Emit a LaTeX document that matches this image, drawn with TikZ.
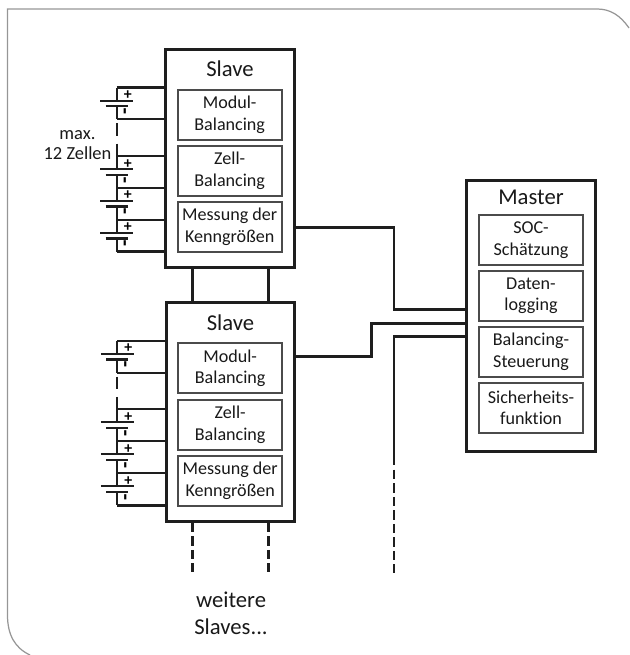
\documentclass[tikz,border=0pt]{standalone}
\usepackage{fontspec}
\setmainfont[Ligatures=CommonOff]{Carlito}
\usetikzlibrary{calc}

\definecolor{linedark}{RGB}{30,30,30}
\definecolor{framegray}{RGB}{150,150,150}

\begin{document}
\begin{tikzpicture}[
    x=0.02cm, y=-0.02cm,
    unitbox/.style={rectangle, draw=linedark, line width=1.7pt, minimum width=2.57cm, inner sep=0pt},
    funcbox/.style={rectangle, draw=linedark!80, line width=1.1pt, minimum width=2.08cm, minimum height=1.0cm, inner sep=0pt, align=center, font=\fontsize{10.3}{12.4}\selectfont, text=black!90},
    title/.style={font=\fontsize{12.9}{15}\selectfont, text=black!90, inner sep=0pt},
    lab/.style={font=\fontsize{12.9}{15.6}\selectfont, align=center, inner sep=0pt, text=black!90},
    wire/.style={draw=linedark, line width=1.15pt},
    bus/.style={draw=linedark, line width=1.6pt},
    gapline/.style={dash pattern=on 5.3pt off 2.4pt},
    sign/.style={font=\fontsize{9}{9}\bfseries\selectfont, inner sep=0pt}
]
    \useasboundingbox (0,0) rectangle (629,655);

    % Frame, runs off the page at the round corners
    \draw[framegray, line width=0.7pt] (629,28) .. controls (620,15) and (610,9) .. (597,9) -- (7.5,9) -- (7.5,615) .. controls (7.5,635) and (15,648) .. (30,655);

    % Units
    \node[unitbox, minimum height=4.37cm] (S1) at (230,158.5) {};
    \node[unitbox, minimum height=4.37cm] (S2) at (230.5,412) {};
    \node[unitbox, minimum height=5.43cm] (M) at (531,316) {};

    \node[title] (S1t) at (230,69) {Slave};
    \node[title] (S2t) at (230.5,323) {Slave};
    \node[title] (Mt) at (531,197) {Master};

    % Functions
    \node[funcbox] (A1) at (229.7,115) {Modul-\\Balancing};
    \node[funcbox] (A2) at (229.7,171) {Zell-\\Balancing};
    \node[funcbox] (A3) at (229.7,227) {Messung der\\Kenngrößen};
    \node[funcbox] (B1) at (230.2,368.3) {Modul-\\Balancing};
    \node[funcbox] (B2) at (230.2,424.7) {Zell-\\Balancing};
    \node[funcbox] (B3) at (230.2,480.7) {Messung der\\Kenngrößen};
    \node[funcbox] (C1) at (531,240) {SOC-\\Schätzung};
    \node[funcbox] (C2) at (531,295.7) {Daten-\\logging};
    \node[funcbox] (C3) at (531,351.7) {Balancing-\\Steuerung};
    \node[funcbox] (C4) at (531,407.8) {Sicherheits-\\funktion};

    % Cells, y is the upper wire of each one
    \foreach \name/\xw/\yw/\ywb in {a/116.7/87.7/119.3, b/116.7/156.3/188, c/116.7/188/220, d/116.7/220/251.7,
                                    e/117.3/341/372.7, f/117.3/409.3/441.3, g/117.3/441.3/473.3, h/117.3/473.3/505.3} {
        \coordinate (\name top) at (\xw,\yw);
        \coordinate (\name bot) at (\xw,\ywb);
        \coordinate (\name p) at (\xw,\yw+13);
        \coordinate (\name n) at (\xw,\yw+18.5);
        \draw[wire] (\name top) -- (\name p);
        \draw[wire] (\name n) -- (\name bot);
        \draw[wire] ($(\name p)+(-16.5,0)$) -- ($(\name p)+(16.5,0)$);
        \draw[wire] ($(\name n)+(-11,0)$) -- ($(\name n)+(11,0)$);
        \node[sign] (\name plus) at ($(\name top)+(11,7.5)$) {+};
        \node[sign, rotate=90, font=\fontsize{12}{12}\bfseries\selectfont] (\name minus) at ($(\name top)+(10.5,23.5)$) {-};
    }

    % Wires to the slaves
    \draw[bus] (atop) -- (atop -| S1.west);
    \draw[wire] (abot) -- (abot -| S1.west);
    \foreach \name in {b,c,d} {
        \draw[wire] (\name top) -- (\name top -| S1.west);
    }
    \draw[bus] (dbot) -- (dbot -| S1.west);
    \draw[bus] (etop) -- (etop -| S2.west);
    \draw[wire] (ebot) -- (ebot -| S2.west);
    \foreach \name in {f,g,h} {
        \draw[wire] (\name top) -- (\name top -| S2.west);
    }
    \draw[bus] (hbot) -- (hbot -| S2.west);

    % Gaps between the first and second cell
    \draw[wire, dash pattern=on 0pt off 2.3pt on 7pt off 4.5pt on 7.5pt] (abot) -- (btop);
    \draw[wire, dash pattern=on 0pt off 2.3pt on 7pt off 4.5pt on 7.5pt] (ebot) -- (ftop);

    \node[lab, font=\fontsize{10.5}{11.4}\selectfont] (max) at (77.5,145) {max.\\12 Zellen};

    % Bus between the slaves
    \coordinate (L1) at (192.3,267);
    \coordinate (L2) at (268.7,267);
    \draw[bus] (L1) -- (L1 |- S2.north);
    \draw[bus] (L2) -- (L2 |- S2.north);
    \coordinate (D1) at (192.3,572);
    \coordinate (D2) at (268.7,572);
    \coordinate (D3) at (394,573.3);
    \coordinate (D3s) at (394,465.3);
    \coordinate (D3d) at (394,469.7);
    \draw[bus, gapline] (L1 |- S2.south) -- (D1);
    \draw[bus, gapline] (L2 |- S2.south) -- (D2);

    % Lines to the master
    \coordinate (K1) at (294,227.7);
    \coordinate (K2) at (294.5,356.7);
    \coordinate (K3) at (466.7,309.3);
    \coordinate (K4) at (466.7,323.7);
    \coordinate (K5) at (466.7,336.7);
    \draw[bus] (K1) -| (D3s |- K3) -- (K3);
    \draw[bus] (K2) -- (371.7,356.7) |- (K4);
    \draw[bus] (K5) -| (D3s);
    \draw[bus, gapline] (D3d) -- (D3);

    \node[lab] (more) at (231,613) {weitere\\Slaves...};
\end{tikzpicture}
\end{document}
